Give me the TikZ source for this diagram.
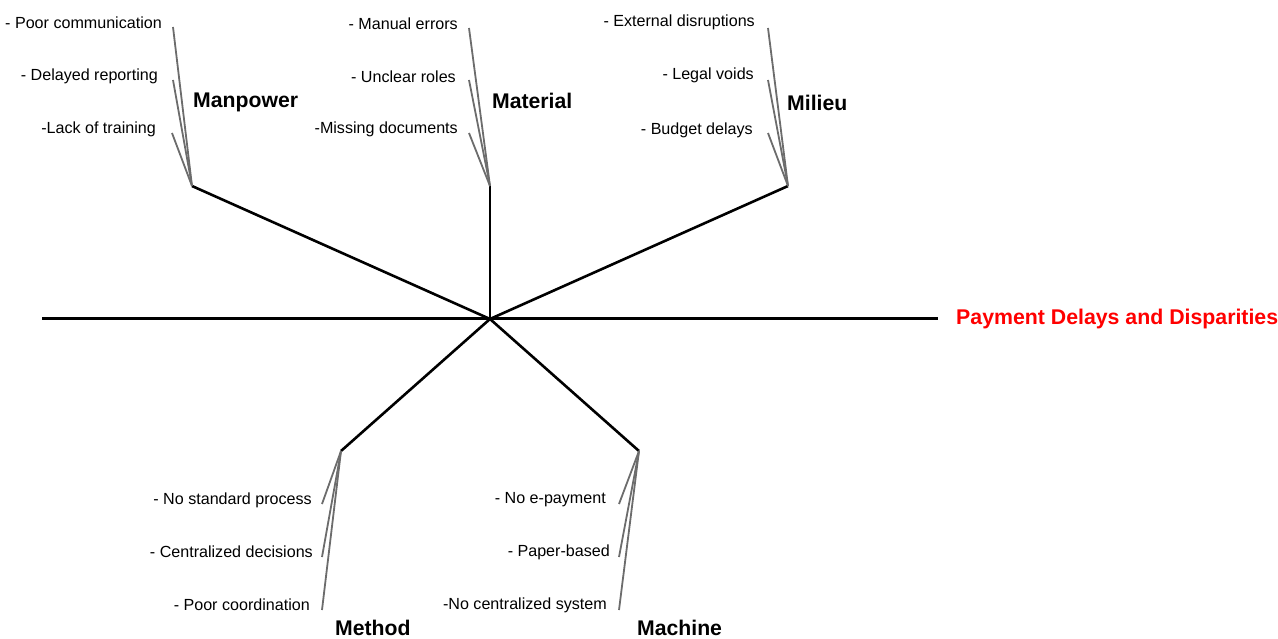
\documentclass[tikz,border=0pt]{standalone}
\usepackage{fontspec}
\setmainfont{Liberation Sans}
\begin{document}
\begin{tikzpicture}[x=1pt,y=-1pt,
  cause/.style={font=\fontsize{16.1}{18}\selectfont, inner sep=0pt, anchor=east},
  cat/.style={font=\bfseries\fontsize{21.2}{24}\selectfont, inner sep=0pt, anchor=west},
  bone/.style={line width=2.6pt, black},
  sub/.style={line width=1.8pt, gray!85!black},
  spine/.style={line width=3pt, black}]
\useasboundingbox (0,0) rectangle (1278,639);
% spine
\coordinate (sL) at (42,319);
\coordinate (sR) at (938,319);
\coordinate (c) at (490,319);
\draw[spine] (sL) -- (sR);
\node[font=\bfseries\fontsize{21.3}{24}\selectfont, text=red, inner sep=0pt, anchor=west] (effect) at (956,319) {Payment Delays and Disparities};
% junctions
\coordinate (jMan) at (192,186);
\coordinate (jMat) at (490,186);
\coordinate (jMil) at (788,186);
\coordinate (jMet) at (341,451);
\coordinate (jMac) at (639,451);
\draw[bone] (c) -- (jMan);
\draw[bone] (c) -- (jMat);
\draw[bone] (c) -- (jMil);
\draw[bone] (c) -- (jMet);
\draw[bone] (c) -- (jMac);
% Manpower
\coordinate (m1) at (173,27);
\coordinate (m2) at (173,80);
\coordinate (m3) at (172,133);
\draw[sub] (jMan) -- (m1);
\draw[sub] (jMan) -- (m2);
\draw[sub] (jMan) -- (m3);
\node[cause] (t1) at (162,23) {- Poor communication};
\node[cause] (t2) at (158,76) {- Delayed reporting};
\node[cause] (t3) at (156,129) {-Lack of training};
\node[cat] (manpower) at (193,102) {Manpower};
% Material
\coordinate (a1) at (469,28);
\coordinate (a2) at (469,80);
\coordinate (a3) at (469,133);
\draw[sub] (jMat) -- (a1);
\draw[sub] (jMat) -- (a2);
\draw[sub] (jMat) -- (a3);
\node[cause] (t4) at (458,24) {- Manual errors};
\node[cause] (t5) at (456,77) {- Unclear roles};
\node[cause] (t6) at (458,129) {-Missing documents};
\node[cat] (material) at (492,101) {Material};
% Milieu
\coordinate (l1) at (768,28);
\coordinate (l2) at (768,80);
\coordinate (l3) at (768,133);
\draw[sub] (jMil) -- (l1);
\draw[sub] (jMil) -- (l2);
\draw[sub] (jMil) -- (l3);
\node[cause] (t7) at (755,22) {- External disruptions};
\node[cause] (t8) at (754,75) {- Legal voids};
\node[cause] (t9) at (753,130) {- Budget delays};
\node[cat] (milieu) at (787,103) {Milieu};
% Method
\coordinate (e1) at (322,504);
\coordinate (e2) at (322,557);
\coordinate (e3) at (322,610);
\draw[sub] (jMet) -- (e1);
\draw[sub] (jMet) -- (e2);
\draw[sub] (jMet) -- (e3);
\node[cause] (t10) at (312,500) {- No standard process};
\node[cause] (t11) at (313,552) {- Centralized decisions};
\node[cause] (t12) at (310,605) {- Poor coordination};
\node[cat] (method) at (335,628) {Method};
% Machine
\coordinate (h1) at (619,504);
\coordinate (h2) at (619,557);
\coordinate (h3) at (619,610);
\draw[sub] (jMac) -- (h1);
\draw[sub] (jMac) -- (h2);
\draw[sub] (jMac) -- (h3);
\node[cause] (t13) at (606,500) {- No e-payment};
\node[cause] (t14) at (610,552) {- Paper-based};
\node[cause] (t15) at (607,605) {-No centralized system};
\node[cat] (machine) at (637,628) {Machine};
\end{tikzpicture}
\end{document}
